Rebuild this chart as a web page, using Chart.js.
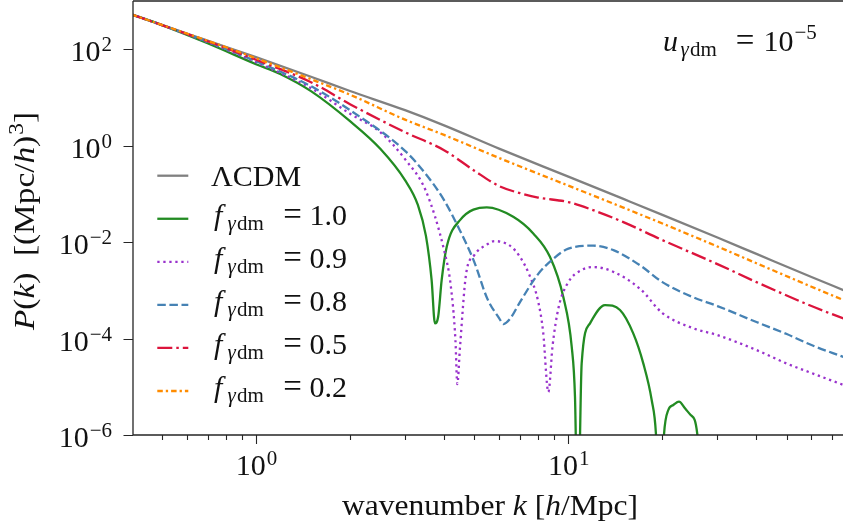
<!DOCTYPE html>
<html>
<head>
<meta charset="utf-8">
<script src="https://cdn.jsdelivr.net/npm/chart.js@4.4.1/dist/chart.umd.min.js"></script>
<style>
  html, body { margin: 0; padding: 0; background: #ffffff; }
  #wrap { width: 843px; height: 521px; position: relative; }
</style>
</head>
<body>
<div id="wrap"><canvas id="pk" width="843" height="521"></canvas></div>
<script>
// Matter power spectrum P(k) in (Mpc/h)^3 versus wavenumber k in h/Mpc,
// for LambdaCDM and several photon-dark-matter interacting fractions.

const kLcdm = [0.4, 0.5, 0.7, 1, 1.5, 2, 3, 4, 6, 10, 15, 20, 30, 40, 60, 76];
const pLcdm = [526, 319, 151, 68.3, 26.9, 13.6, 5.44, 2.64, 0.867, 0.228, 0.0786, 0.0368, 0.01245, 5.69e-3, 1.89e-3, 1.01e-3];

const kF10 = [0.4, 0.5, 0.7, 1, 1.2, 1.5, 2, 2.5, 3, 3.3, 3.5, 3.65, 3.74, 3.83, 3.93, 4.08, 4.5, 5.48, 6.66, 7.72, 8.73, 9.63, 10.25, 10.5, 10.72, 11.03, 11.73, 13.1, 14.63, 16.13, 17.37, 18.48, 19.07, 19.6, 20.23, 20.89, 21.67, 22.6, 23.62, 24.63, 25.86, 26.5];
const pF10 = [526, 316, 133, 48.9, 30.3, 13.5, 3.22, 0.863, 0.193, 0.0585, 0.0135, 1.63e-3, 2.07e-4, 2.83e-4, 1.63e-3, 8.0e-3, 0.0286, 0.0524, 0.0334, 0.0151, 4.95e-3, 7.34e-4, 6.76e-5, 6.2e-6, 1e-8, 3.06e-5, 2.07e-4, 4.94e-4, 3.90e-4, 1.28e-4, 3.06e-5, 5.31e-6, 1.05e-6, 1e-8, 1.0e-6, 3.30e-6, 4.19e-6, 4.90e-6, 3.57e-6, 2.60e-6, 1.05e-6, 1e-8];

const kF09 = [0.4, 0.5, 0.7, 1, 1.5, 2, 2.5, 3, 3.5, 4, 4.2, 4.35, 4.41, 4.5, 4.7, 5, 5.5, 5.8, 6.5, 7, 7.5, 8, 8.3, 8.63, 8.9, 9.3, 10, 11, 12, 14, 17, 20, 25, 30, 40, 50, 60, 76];
const pF09 = [526, 316, 140, 53.8, 15.6, 4.60, 1.90, 0.525, 0.114, 6.82e-3, 1.29e-3, 9.3e-5, 1.14e-5, 6.76e-5, 2.07e-3, 5.38e-3, 9.0e-3, 0.0105, 8.45e-3, 4.95e-3, 2.09e-3, 5.98e-4, 1.40e-4, 7.8e-6, 7.0e-5, 4.36e-4, 1.48e-3, 2.63e-3, 3.04e-3, 2.39e-3, 1.06e-3, 3.38e-4, 1.65e-4, 1.18e-4, 5.78e-5, 3.03e-5, 1.93e-5, 1.09e-5];

const kF08 = [0.4, 0.5, 0.7, 1, 1.5, 2, 3, 3.5, 4, 4.5, 5, 5.5, 6, 6.2, 6.5, 7, 8, 9, 10, 12, 14, 17, 20, 25, 30, 40, 50, 60, 76];
const pF08 = [526, 316, 143, 56.4, 17.1, 5.44, 0.78, 0.256, 0.0741, 0.0173, 3.85e-3, 6.75e-4, 2.66e-4, 2.0e-4, 2.54e-4, 5.71e-4, 2.17e-3, 4.66e-3, 7.33e-3, 8.45e-3, 6.73e-3, 3.26e-3, 1.48e-3, 7.24e-4, 4.72e-4, 2.20e-4, 1.24e-4, 7.33e-5, 4.14e-5];

const kF05 = [0.4, 0.5, 0.7, 1, 1.5, 2, 3, 4, 5, 6, 7, 8, 10, 12, 15, 20, 30, 40, 60, 76];
const pF05 = [526, 316, 146.5, 60.6, 20.7, 7.25, 1.90, 0.807, 0.303, 0.145, 0.1036, 0.0839, 0.0675, 0.0460, 0.0260, 0.0110, 3.50e-3, 1.48e-3, 4.72e-4, 2.60e-4];

const kF02 = [0.4, 0.5, 0.7, 1, 1.5, 2, 3, 4, 6, 10, 15, 20, 30, 40, 60, 76];
const pF02 = [526, 319, 150, 65.1, 23.9, 11.4, 3.46, 1.67, 0.556, 0.148, 0.0519, 0.0243, 8.11e-3, 3.65e-3, 1.19e-3, 6.28e-4];

const fractionLabels = ['1.0', '0.9', '0.8', '0.5', '0.2'];

// Axis ticks
const xMajorTicks = [1, 10];
const xMajorExps = ['0', '1'];
const xMinorTicks = [0.5, 0.6, 0.7, 0.8, 0.9, 2, 3, 4, 5, 6, 7, 8, 9, 20, 30, 40, 50, 60, 70];
const yMajorTicks = [1e-6, 1e-4, 1e-2, 1, 1e2];
const yMajorExps = ['\u22126', '\u22124', '\u22122', '0', '2'];

const SERIF = '"Liberation Serif", "Times New Roman", serif';
const INK = '#262626';
const LINE_W = 2.3;

const styles = [
  { color: '#808080', dash: [] },            // LambdaCDM
  { color: '#228b22', dash: [] },            // f = 1.0
  { color: '#9932cc', dash: [2.3, 3.7] },    // f = 0.9
  { color: '#4682b4', dash: [8.5, 3.6] },    // f = 0.8
  { color: '#dc143c', dash: [15, 4, 2.5, 4] },   // f = 0.5
  { color: '#ff8c00', dash: [5.5, 3, 2.3, 3] }   // f = 0.2
];

const seriesK = [kLcdm, kF10, kF09, kF08, kF05, kF02];
const seriesP = [pLcdm, pF10, pF09, pF08, pF05, pF02];
const seriesNames = ['\u039BCDM'].concat(fractionLabels.map(f => 'f = ' + f));

const datasets = seriesK.map((ks, i) => ({
  label: seriesNames[i],
  data: ks.map((k, j) => ({ x: k, y: seriesP[i][j] })),
  borderColor: styles[i].color,
  borderWidth: LINE_W,
  borderDash: styles[i].dash,
  borderCapStyle: 'butt',
  borderJoinStyle: 'round',
  cubicInterpolationMode: 'monotone',
  pointRadius: 0,
  fill: false,
  order: seriesK.length - i
}));

function runFont(r) {
  return (r.it ? 'italic ' : '') + (r.size || 30) + 'px ' + SERIF;
}
function runsWidth(ctx, runs) {
  let w = 0;
  for (const r of runs) {
    ctx.font = runFont(r);
    w += (r.pre || 0) + ctx.measureText(r.t).width;
  }
  return w;
}
// Draw a sequence of text runs (mixed italic / sub- and superscripts) on one baseline.
function drawRuns(ctx, runs, x, y, align, targetW) {
  const w = runsWidth(ctx, runs);
  const sx = targetW ? targetW / w : 1;
  const total = w * sx;
  const x0 = align === 'center' ? x - total / 2 : (align === 'right' ? x - total : x);
  ctx.save();
  ctx.translate(x0, y);
  ctx.scale(sx, 1);
  ctx.textAlign = 'left';
  ctx.textBaseline = 'alphabetic';
  let px = 0;
  for (const r of runs) {
    ctx.font = runFont(r);
    px += r.pre || 0;
    ctx.fillText(r.t, px, r.dy || 0);
    px += ctx.measureText(r.t).width;
  }
  ctx.restore();
}
function putText(ctx, t, x, y, opts) {
  opts = opts || {};
  ctx.save();
  ctx.font = runFont({ it: opts.it, size: opts.size });
  ctx.textAlign = opts.align || 'left';
  ctx.textBaseline = 'alphabetic';
  ctx.fillText(t, x, y);
  ctx.restore();
}

const axesDecor = {
  id: 'axesDecor',
  afterDraw(chart) {
    const ctx = chart.ctx;
    const a = chart.chartArea;
    const xs = chart.scales.x, ys = chart.scales.y;
    ctx.save();
    ctx.fillStyle = '#111111';
    ctx.strokeStyle = INK;

    // frame: left, top and bottom spines
    ctx.lineWidth = 1.3;
    ctx.setLineDash([]);
    ctx.beginPath();
    ctx.moveTo(a.left, a.top);
    ctx.lineTo(a.left, a.bottom);
    ctx.moveTo(a.left, a.bottom);
    ctx.lineTo(a.right, a.bottom);
    ctx.moveTo(a.left, a.top);
    ctx.lineTo(a.right, a.top);
    ctx.stroke();

    // x ticks
    ctx.lineWidth = 1.1;
    ctx.beginPath();
    xMinorTicks.forEach(v => {
      const px = Math.round(xs.getPixelForValue(v)) + 0.5;
      ctx.moveTo(px, a.bottom); ctx.lineTo(px, a.bottom + 5);
    });
    xMajorTicks.forEach(v => {
      const px = Math.round(xs.getPixelForValue(v)) + 0.5;
      ctx.moveTo(px, a.bottom); ctx.lineTo(px, a.bottom + 9);
    });
    // y ticks
    yMajorTicks.forEach(v => {
      const py = Math.round(ys.getPixelForValue(v)) + 0.5;
      ctx.moveTo(a.left, py); ctx.lineTo(a.left - 9.5, py);
    });
    ctx.stroke();

    // tick labels
    xMajorTicks.forEach((v, i) => {
      const px = xs.getPixelForValue(v);
      drawRuns(ctx, [{ t: '10' }, { t: xMajorExps[i], size: 21, dy: -10, pre: 1 }], px + 0.5, a.bottom + 40, 'center');
    });
    yMajorTicks.forEach((v, i) => {
      const py = ys.getPixelForValue(v);
      drawRuns(ctx, [{ t: '10' }, { t: yMajorExps[i], size: 21, dy: -10, pre: 1 }], a.left - 21, py + 12, 'right');
    });

    // axis titles
    drawRuns(ctx, [
      { t: 'wavenumber ' }, { t: 'k', it: true }, { t: ' [' }, { t: 'h', it: true }, { t: '/Mpc]' }
    ], (a.left + a.right) / 2 + 2, 515, 'center', 296);

    ctx.save();
    ctx.translate(34, (a.top + a.bottom) / 2 + 3);
    ctx.rotate(-Math.PI / 2);
    drawRuns(ctx, [
      { t: 'P', it: true }, { t: '(' }, { t: 'k', it: true }, { t: ')' },
      { t: '  [(Mpc/' }, { t: 'h', it: true }, { t: ')' }, { t: '3', size: 21, dy: -11, pre: 1 }, { t: ']' }
    ], 0, 0, 'center', 218);
    ctx.restore();

    // legend (no frame)
    const rowY0 = 175.7, rowStep = 43.06;
    const hx0 = 157.3, hx1 = 188.3;
    for (let i = 0; i < styles.length; i++) {
      const ry = rowY0 + i * rowStep;
      ctx.save();
      ctx.strokeStyle = styles[i].color;
      ctx.lineWidth = LINE_W;
      ctx.lineCap = 'butt';
      ctx.setLineDash(styles[i].dash);
      ctx.beginPath();
      ctx.moveTo(hx0, ry); ctx.lineTo(hx1, ry);
      ctx.stroke();
      ctx.restore();
      if (i === 0) {
        putText(ctx, '\u039BCDM', 211, ry + 10.3);
      } else {
        const b = ry + 6;
        putText(ctx, 'f', 214, b, { it: true });
        putText(ctx, '\u03B3', 227.5, b + 5, { it: true, size: 21 });
        putText(ctx, 'dm', 237, b + 5, { size: 21 });
        putText(ctx, '=', 292.5, b, { align: 'center', size: 33 });
        putText(ctx, fractionLabels[i - 1], 309.5, b);
      }
    }

    // coupling annotation, upper right
    const ab = 50.5;
    putText(ctx, 'u', 663, ab, { it: true });
    putText(ctx, '\u03B3', 680.5, ab + 5, { it: true, size: 21 });
    putText(ctx, 'dm', 690, ab + 5, { size: 21 });
    putText(ctx, '=', 745, ab, { align: 'center', size: 33 });
    drawRuns(ctx, [{ t: '10' }, { t: '\u22125', size: 21, dy: -12, pre: 1 }], 763.5, ab, 'left');

    ctx.restore();
  }
};

new Chart(document.getElementById('pk'), {
  type: 'line',
  data: { datasets: datasets },
  options: {
    responsive: false,
    animation: false,
    devicePixelRatio: 1,
    events: [],
    layout: { padding: { left: 133, top: 1, right: 0, bottom: 86 } },
    plugins: { legend: { display: false }, tooltip: { enabled: false }, title: { display: false } },
    scales: {
      x: { type: 'logarithmic', min: 0.404, max: 75.7, bounds: 'data', display: false },
      y: { type: 'logarithmic', min: 1e-6, max: 1e3, bounds: 'data', display: false }
    }
  },
  plugins: [axesDecor]
});
</script>
</body>
</html>
